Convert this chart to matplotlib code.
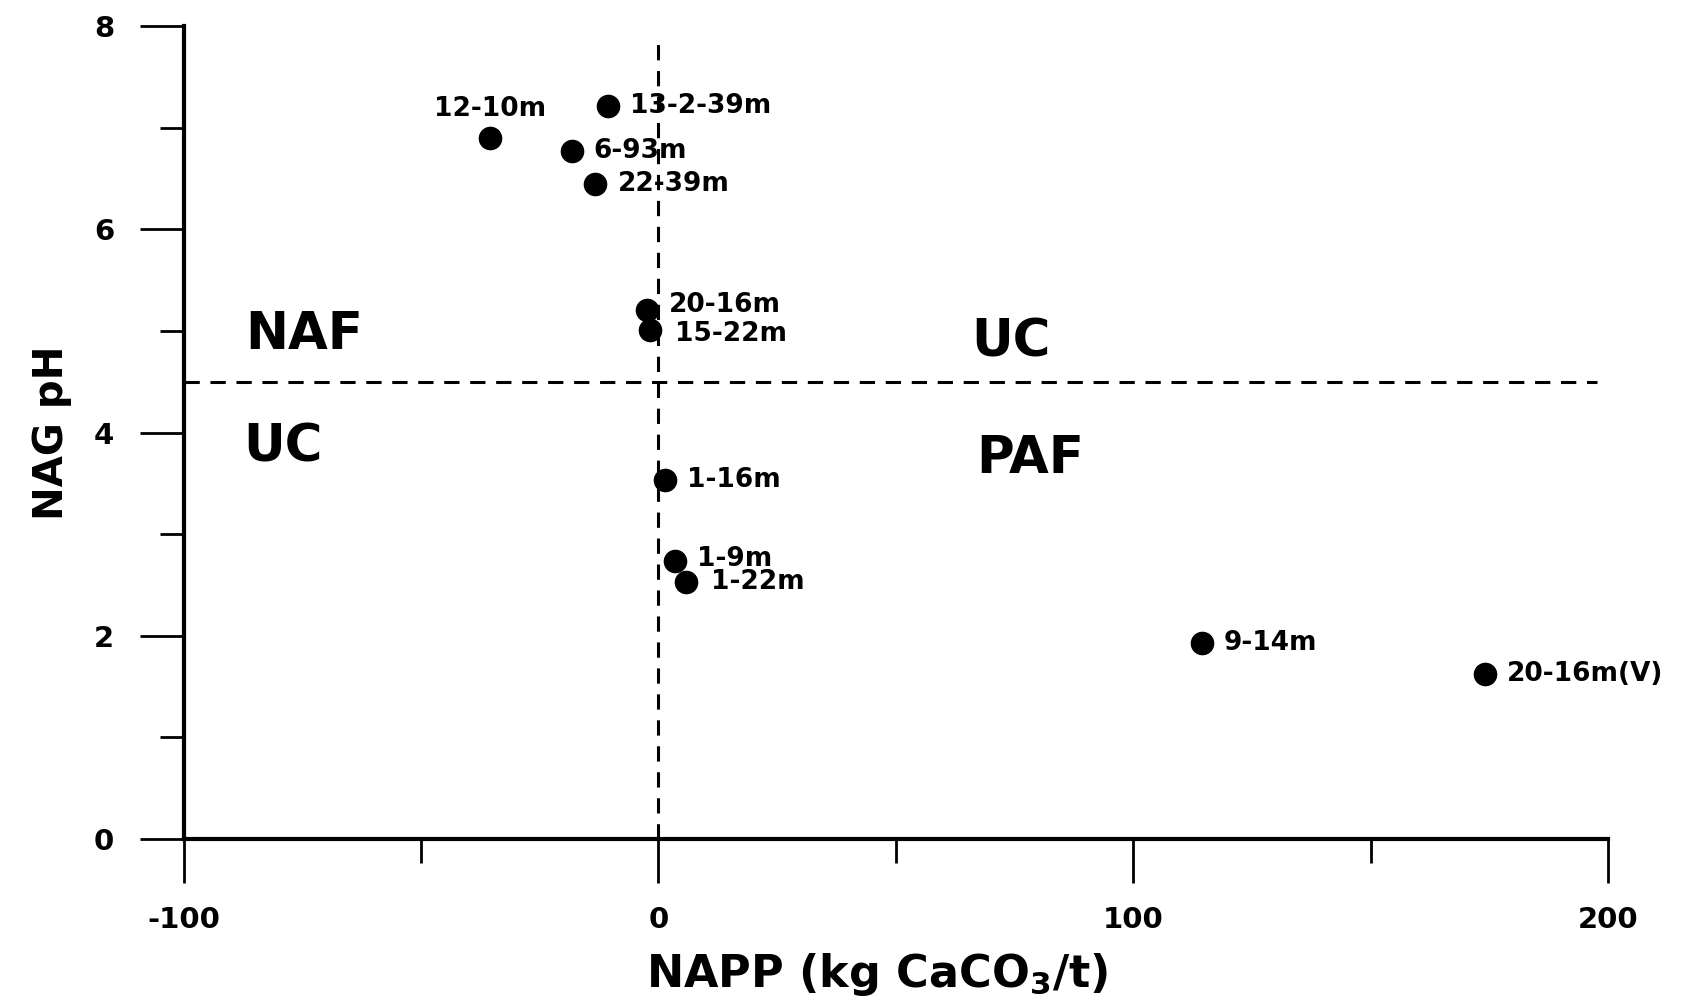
import numpy as np
import matplotlib
matplotlib.use("Agg")
from matplotlib import pyplot as plt
from matplotlib.ticker import MultipleLocator

plt.rcParams['font.family'] = ['DejaVu Sans']
plt.rcParams['font.weight'] = 'bold'
plt.rcParams['axes.unicode_minus'] = False

napp = [-35.5, -10.6, -18.3, -13.3, -2.5, -1.8, 1.4, 3.4, 5.9, 114.4, 174.0]
nagph = [6.9, 7.21, 6.77, 6.45, 5.21, 5.01, 3.53, 2.74, 2.53, 1.93, 1.62]
names = ["12-10m", "13-2-39m", "6-93m", "22-39m", "20-16m", "15-22m",
         "1-16m", "1-9m", "1-22m", "9-14m", "20-16m(V)"]
# label offsets in points (dx, dy)
offsets = [(0, 21), (16, 0), (16, 0), (16, 0), (16, 3), (18, -3),
           (16, 0), (16, 1), (18, 0), (16, 0), (16, 0)]

fig = plt.figure(figsize=(16.84, 10.06), dpi=100)
ax = fig.add_axes([0.109, 0.166, 0.846, 0.808])

# dividing lines
ax.plot([0, 0], [0, 7.83], color='black', lw=2.2, ls=(0, (5, 3.5)))
ax.plot([-100, 197.7], [4.5, 4.5], color='black', lw=2.2, ls=(0, (5, 3.5)))

ax.plot(napp, nagph, 'o', color='black', ms=16, ls='none')

for x, y, s, off in zip(napp, nagph, names, offsets):
    ha = 'center' if off[0] == 0 else 'left'
    ax.annotate(s, (x, y), xytext=off, textcoords='offset points',
                ha=ha, va='center', fontsize=19, fontweight='bold')

ax.text(-74.6, 4.96, "NAF", fontsize=37, fontweight='bold', ha='center', va='center')
ax.text(-79.0, 3.85, "UC", fontsize=37, fontweight='bold', ha='center', va='center')
ax.text(74.3, 4.89, "UC", fontsize=37, fontweight='bold', ha='center', va='center')
ax.text(78.3, 3.74, "PAF", fontsize=37, fontweight='bold', ha='center', va='center')

ax.set_xlim(-100, 200)
ax.set_ylim(0, 8)
ax.set_xticks([-100, 0, 100, 200])
ax.set_yticks([0, 2, 4, 6, 8])
ax.xaxis.set_minor_locator(MultipleLocator(50))
ax.yaxis.set_minor_locator(MultipleLocator(1))
ax.tick_params(which='major', direction='out', length=32, width=2, labelsize=21, pad=16)
ax.tick_params(which='minor', direction='out', length=17, width=2)
ax.tick_params(axis='y', which='major', pad=18)
for lab in ax.get_xticklabels() + ax.get_yticklabels():
    lab.set_fontweight('bold')

for sp in ['top', 'right']:
    ax.spines[sp].set_visible(False)
for sp in ['left', 'bottom']:
    ax.spines[sp].set_linewidth(3)

ax.set_xlabel("NAPP (kg CaCO$_\\mathregular{3}$/t)", fontsize=32, fontweight='bold')
ax.xaxis.set_label_coords(0.487, -0.138)
ax.set_ylabel("NAG pH", fontsize=29, fontweight='bold', labelpad=16)

fig.savefig("out.png", dpi=100)
